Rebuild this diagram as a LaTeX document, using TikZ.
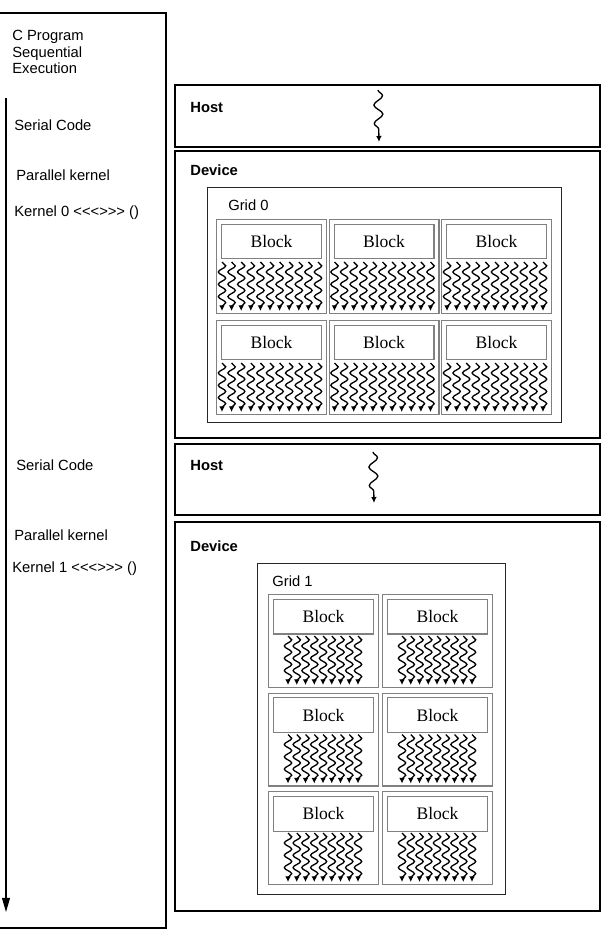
\documentclass[tikz,border=0pt]{standalone}
\usepackage{fontspec}
\setmainfont{Liberation Serif}
\setsansfont{Liberation Sans}[Ligatures=TeXOff]
\usetikzlibrary{positioning,arrows.meta,decorations.pathmorphing}

\begin{document}
\begin{tikzpicture}[
    x=0.02cm, y=-0.02cm,
    panel/.style={draw, line width=1.1pt, anchor=north west, inner sep=0pt, minimum width=8.5cm},
    gridbox/.style={draw=black!85, line width=0.75pt, anchor=north west, inner sep=0pt},
    blockbox/.style={draw=black!50, line width=0.6pt, anchor=north west, inner sep=0pt, minimum width=2.2cm},
    tag/.style={draw=black!50, line width=0.6pt, minimum width=2cm, minimum height=0.68cm, inner sep=0pt, font=\rmfamily\fontsize{10}{12}\selectfont},
    lbl/.style={inner sep=0pt, anchor=base west, font=\sffamily\fontsize{8.4}{9.6}\selectfont},
    title/.style={inner sep=0pt, font=\sffamily\bfseries\fontsize{8.4}{10}\selectfont},
    thread/.style={line width=0.75pt, decorate, decoration={snake, amplitude=2.1pt, segment length=7pt, post length=2.2pt}, -{Latex[length=3.2pt, width=3.2pt]}},
    hostthread/.style={line width=0.75pt, decorate, decoration={snake, amplitude=2.5pt, segment length=10.5pt, post length=3pt}, -{Latex[length=3.4pt, width=3.2pt]}},
    flow/.style={line width=0.6pt, -{Triangle[length=8pt, width=4.5pt]}}
]
\useasboundingbox (0,0) rectangle (605,942);

% sequential program on the left
\node[draw, line width=1.1pt, anchor=north west, inner sep=0pt, minimum width=3.36cm, minimum height=18.3cm] (prog) at (-3,12) {};
\node[lbl, anchor=north west, align=left] (progname) at (12,29.5) {C Program\\Sequential\\Execution};
\coordinate (flowtop) at (6,98);
\coordinate (flowend) at (6,912);
\draw[flow] (flowtop) -- (flowend);

\node[lbl] (serial0) at (14,130.3) {Serial Code};
\node[lbl] (par0) at (16,180.3) {Parallel kernel};
\node[lbl] (kern0) at (14,216.8) {Kernel 0 <<<>>> ()};
\node[lbl] (serial1) at (16,470.3) {Serial Code};
\node[lbl] (par1) at (14,540.3) {Parallel kernel};
\node[lbl] (kern1) at (12,572.3) {Kernel 1 <<<>>> ()};

% first host / device pair
\node[panel, minimum height=1.24cm] (host0) at (174,84) {};
\node[title, below right=0.36cm and 0.32cm of host0.north west] (host0lbl) {Host};
\coordinate (h0a) at (378,90);
\coordinate (h0b) at (379,142);
\draw[hostthread] (h0a) -- (h0b);

\node[panel, minimum height=5.74cm] (dev0) at (174,150) {};
\node[title, below right=0.29cm and 0.32cm of dev0.north west] (dev0lbl) {Device};
\node[gridbox, minimum width=7.08cm, minimum height=4.7cm] (grid0) at (207,187) {};
\node[lbl, anchor=north west, below right=0.24cm and 0.42cm of grid0.north west] (grid0lbl) {Grid 0};

\foreach \col/\bx in {0/216,1/328.5,2/441}{
  \foreach \row/\by in {0/219,1/320}{
    \node[blockbox, minimum height=1.88cm] (b0-\col\row) at (\bx,\by) {};
    \node[tag, below right=0.1cm and 0.1cm of b0-\col\row.north west] (t0-\col\row) {Block};
    \foreach \i in {0,...,10}
      \draw[thread] ([shift={(6+9.6*\i,43)}]b0-\col\row.north west) -- ++(0,49);
  }
}

% second host / device pair
\node[panel, minimum height=1.42cm] (host1) at (174,443) {};
\node[title, below right=0.34cm and 0.32cm of host1.north west] (host1lbl) {Host};
\coordinate (h1a) at (373,452);
\coordinate (h1b) at (374,503);
\draw[hostthread] (h1a) -- (h1b);

\node[panel, minimum height=7.78cm] (dev1) at (174,521) {};
\node[title, below right=0.38cm and 0.32cm of dev1.north west] (dev1lbl) {Device};
\node[gridbox, minimum width=4.96cm, minimum height=6.62cm] (grid1) at (257,563) {};
\node[lbl, anchor=north west, below right=0.24cm and 0.3cm of grid1.north west] (grid1lbl) {Grid 1};

\foreach \col/\bx in {0/268,1/382}{
  \foreach \row/\by in {0/594,1/692.5,2/791}{
    \node[blockbox, minimum height=1.86cm] (b1-\col\row) at (\bx,\by) {};
    \node[tag, minimum height=0.7cm, below right=0.09cm and 0.1cm of b1-\col\row.north west] (t1-\col\row) {Block};
    \foreach \i in {0,...,8}
      \draw[thread] ([shift={(20+8.75*\i,42)}]b1-\col\row.north west) -- ++(0,49);
  }
}
\end{tikzpicture}
\end{document}
